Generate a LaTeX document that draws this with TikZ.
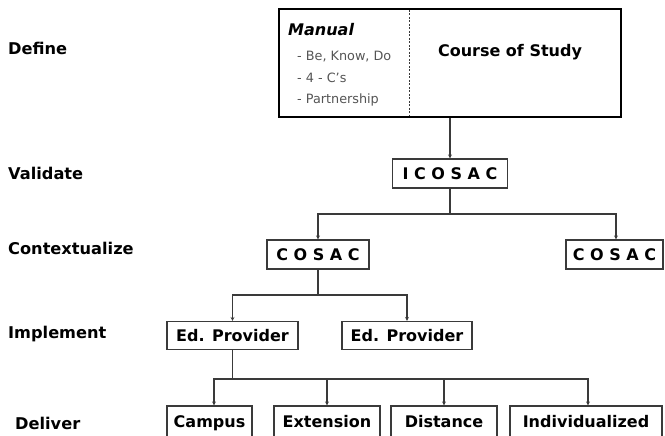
\documentclass[tikz,border=0pt]{standalone}
\usepackage{fontspec}
\setmainfont{DejaVu Sans}
\usetikzlibrary{arrows.meta}
\definecolor{linec}{HTML}{3A3A3A}
\definecolor{itemc}{HTML}{555555}
\tikzset{
  lab/.style={anchor=west, font=\fontsize{16.2}{18}\selectfont\bfseries, text=black, inner sep=0pt},
  boxn/.style={draw=linec, line width=1.1pt, fill=white, font=\fontsize{16}{18}\selectfont\bfseries, text=black, inner sep=0pt, text height=11.7pt, text depth=0pt},
  conn/.style={draw=linec, line width=1.1pt},
  arr/.style={conn, -{Stealth[length=4pt,width=4pt]}},
  item/.style={anchor=west, font=\fontsize{12.8}{14}\selectfont, text=itemc, inner sep=0pt}
}
\begin{document}
\begin{tikzpicture}[x=1pt,y=-1pt]
\useasboundingbox (0,0) rectangle (665,436);
\clip (0,0) rectangle (665,436);
\fill[white] (0,0) rectangle (665,436);
% row labels
\node[lab] (ldef) at (8,48) {Define};
\node[lab] (lval) at (8,173) {Validate};
\node[lab] (lcon) at (8,248) {Contextualize};
\node[lab] (limp) at (8,334) {Implement};
\node[lab] (ldel) at (15,423) {Deliver};
% big box
\node[draw=black, line width=2.2pt, minimum width=342pt, minimum height=108pt, inner sep=0pt] (big) at (450,63) {};
\draw[linec, line width=0.9pt, dash pattern=on 2pt off 1.5pt] (409,10) coordinate (dv1) -- (409,116) coordinate (dv2);
\node[anchor=west, font=\fontsize{16}{18}\selectfont\bfseries\itshape, inner sep=0pt] (man) at (288,30) {Manual};
\node[item] (it1) at (297,57) {- Be, Know, Do};
\node[item] (it2) at (297,78) {- 4 - C's};
\node[item] (it3) at (297,100) {- Partnership};
\node[font=\fontsize{16}{18}\selectfont\bfseries, inner sep=0pt] (cos) at (510,52) {Course of Study};
% boxes
\node[boxn, minimum width=115pt, minimum height=29pt] (icosac) at (450,173.5) {I C O S A C};
\node[boxn, minimum width=102pt, minimum height=29pt] (cosacL) at (318,254.5) {C O S A C};
\node[boxn, minimum width=97pt, minimum height=29pt] (cosacR) at (614.5,254.5) {C O S A C};
\node[boxn, minimum width=131pt, minimum height=28pt] (edL) at (232.5,335.5) {Ed. Provider};
\node[boxn, minimum width=130pt, minimum height=28pt] (edR) at (407,335.5) {Ed. Provider};
\node[boxn, minimum width=85pt, minimum height=32pt] (campus) at (209.5,422) {Campus};
\node[boxn, minimum width=106pt, minimum height=32pt] (ext) at (327,422) {Extension};
\node[boxn, minimum width=106pt, minimum height=32pt] (dist) at (444,422) {Distance};
\node[boxn, minimum width=152pt, minimum height=32pt] (indiv) at (586,422) {Individualized};
% connectors
\draw[arr] (big.south -| icosac.north) -- (icosac.north);
\coordinate (b1) at (450,214);
\draw[conn] (icosac.south) -- (b1);
\draw[arr] (b1) -| (cosacL.north);
\draw[arr] (b1) -| ([xshift=1.5pt]cosacR.north);
\coordinate (b2) at (318,295);
\draw[conn] (cosacL.south) -- (b2);
\draw[arr] (b2) -| (edL.north);
\draw[arr] (b2) -| (edR.north);
\coordinate (b3) at (232.5,379);
\draw[conn] (edL.south) -- (b3);
\draw[arr] (b3) -| ([xshift=4.5pt]campus.north);
\draw[arr] (b3) -| (ext.north);
\draw[arr] (b3) -| (dist.north);
\draw[arr] (b3) -| ([xshift=2pt]indiv.north);
\end{tikzpicture}
\end{document}
